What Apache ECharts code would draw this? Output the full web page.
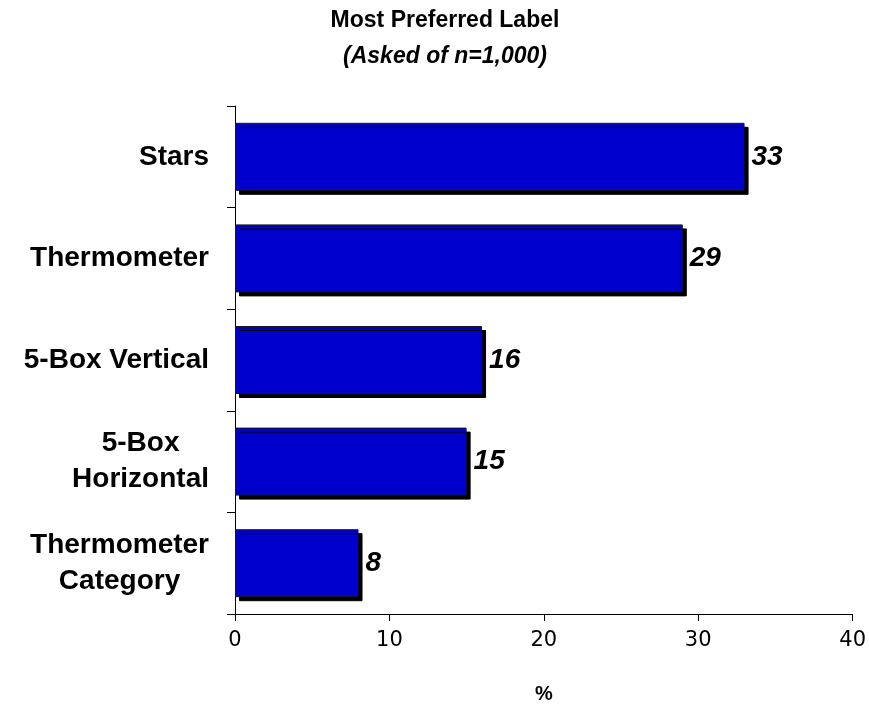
<!DOCTYPE html>
<html>
<head>
<meta charset="utf-8">
<script src="https://cdn.jsdelivr.net/npm/echarts@6/dist/echarts.min.js"></script>
<style>
html,body{margin:0;padding:0;background:#fff;}
#chart{width:869px;height:709px;}
</style>
</head>
<body>
<div id="chart"></div>
<script>
var titleText = 'Most Preferred Label';
var subtitleText = '(Asked of n=1,000)';
var categories = ['Stars', 'Thermometer', '5-Box Vertical', '5-Box\nHorizontal', 'Thermometer\nCategory'];
var values = [33, 29, 16, 15, 8];
var xTicks = [0, 10, 20, 30, 40];
var xName = '%';

var chart = echarts.init(document.getElementById('chart'), null, {renderer: 'canvas'});
var FONT = '"Liberation Sans", Arial, sans-serif';
var TICKFONT = '"DejaVu Sans", sans-serif';

chart.setOption({
  backgroundColor: '#ffffff',
  animation: false,
  graphic: [
    {type: 'text', x: 445, y: 21, style: {text: titleText, font: 'bold 23px ' + FONT, fill: '#000', align: 'center', verticalAlign: 'middle'}},
    {type: 'text', x: 445, y: 57, style: {text: subtitleText, font: 'italic bold 23px ' + FONT, fill: '#000', align: 'center', verticalAlign: 'middle'}}
  ],
  grid: {left: 235, right: 14, top: 106, bottom: 89, containLabel: false},
  xAxis: {
    type: 'value',
    min: xTicks[0],
    max: xTicks[xTicks.length - 1],
    interval: xTicks[1] - xTicks[0],
    name: xName,
    nameLocation: 'middle',
    nameGap: 70,
    nameTextStyle: {fontFamily: FONT, fontWeight: 'bold', fontSize: 20, color: '#000'},
    axisLine: {show: true, lineStyle: {color: '#000', width: 1}},
    axisTick: {show: true, length: 7, lineStyle: {color: '#000'}},
    axisLabel: {fontFamily: TICKFONT, fontSize: 21, color: '#000', margin: 16},
    splitLine: {show: false}
  },
  yAxis: {
    type: 'category',
    inverse: true,
    data: categories,
    axisLine: {show: true, lineStyle: {color: '#000', width: 1}},
    axisTick: {show: true, length: 8, lineStyle: {color: '#000'}},
    axisLabel: {
      margin: 26,
      fontFamily: FONT, fontWeight: 'bold', fontSize: 28, color: '#000',
      formatter: function (v) {
        var lines = v.split('\n');
        if (lines.length === 1) return v;
        return lines.map(function (l) { return '{c|' + l + '}'; }).join('\n');
      },
      rich: {
        c: {fontFamily: FONT, fontWeight: 'bold', fontSize: 28, color: '#000', align: 'center', lineHeight: 36}
      }
    },
    splitLine: {show: false}
  },
  series: [{
    type: 'bar',
    data: values,
    barWidth: 68,
    itemStyle: {
      color: '#0000CC',
      borderColor: '#1a1a1a',
      borderWidth: 1,
      shadowColor: '#000',
      shadowBlur: 0,
      shadowOffsetX: 4,
      shadowOffsetY: 4
    },
    label: {
      show: true,
      position: 'right',
      distance: 7,
      fontFamily: FONT,
      fontWeight: 'bold',
      fontStyle: 'italic',
      fontSize: 28,
      color: '#000'
    }
  }]
});
</script>
</body>
</html>
